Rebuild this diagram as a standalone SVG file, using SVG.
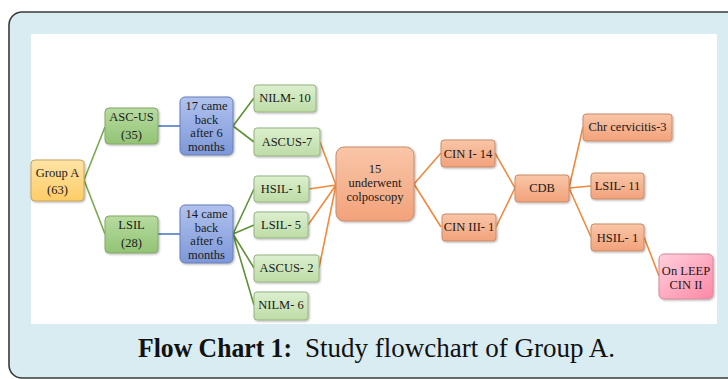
<svg xmlns="http://www.w3.org/2000/svg" width="728" height="379" viewBox="0 0 728 379">
  <defs>
    <linearGradient id="gY" x1="0" y1="0" x2="0" y2="1"><stop offset="0" stop-color="#ffe4a6"/><stop offset="1" stop-color="#ffcc66"/></linearGradient>
    <linearGradient id="gG1" x1="0" y1="0" x2="0" y2="1"><stop offset="0" stop-color="#b7dba0"/><stop offset="1" stop-color="#92c474"/></linearGradient>
    <linearGradient id="gG2" x1="0" y1="0" x2="0" y2="1"><stop offset="0" stop-color="#dcefcf"/><stop offset="1" stop-color="#bddca6"/></linearGradient>
    <linearGradient id="gB" x1="0" y1="0" x2="0" y2="1"><stop offset="0" stop-color="#b0c2ee"/><stop offset="1" stop-color="#7d97d8"/></linearGradient>
    <linearGradient id="gS" x1="0" y1="0" x2="0" y2="1"><stop offset="0" stop-color="#f9c6a8"/><stop offset="1" stop-color="#f2a27a"/></linearGradient>
    <linearGradient id="gP" x1="0" y1="0" x2="1" y2="1"><stop offset="0" stop-color="#ffd0dc"/><stop offset="1" stop-color="#ff88a6"/></linearGradient>
    <filter id="sh" x="-10%" y="-10%" width="130%" height="130%"><feDropShadow dx="1" dy="1" stdDeviation="0.8" flood-color="#000" flood-opacity="0.3"/></filter>
  </defs>
  <style>
    .n rect { stroke-width: 1; filter: url(#sh); }
    .y rect { fill: url(#gY); stroke: #c9a35c; }
    .g1 rect { fill: url(#gG1); stroke: #86a86c; }
    .g2 rect { fill: url(#gG2); stroke: #97b283; }
    .b rect { fill: url(#gB); stroke: #6a7fb8; }
    .s rect { fill: url(#gS); stroke: #c98d6c; }
    .p rect { fill: url(#gP); stroke: #d28a9c; }
    .n text { font-family: "Liberation Serif", "Times New Roman", serif; font-size: 12.5px; fill: #1a1a1a; text-anchor: middle; }
    .lg { stroke: #77ac4c; stroke-width: 1.6; fill: none; }
    .lg2 { stroke: #5f9236; stroke-width: 1.6; fill: none; }
    .lb { stroke: #4472c4; stroke-width: 1.6; fill: none; }
    .lo { stroke: #f08a3c; stroke-width: 1.6; fill: none; }
    .cap { font-family: "Liberation Serif", "Times New Roman", serif; font-size: 27px; fill: #111; }
  </style>

  <rect x="9" y="12" width="740" height="366" rx="13" fill="#d8ecf1" stroke="#3a3a3a" stroke-width="1.6"/>
  <rect x="31" y="34" width="686" height="290" fill="#ffffff"/>

  <g id="connectors">
    <path class="lg" d="M84,180 L105,127 M84,180 L105,234"/>
    <path class="lb" d="M158,126 L180,126 M158,234 L180,234"/>
    <path class="lg2" d="M233,126 L254,98 M233,126 L254,142"/>
    <path class="lg2" d="M233,234 L254,189 M233,234 L254,225 M233,234 L254,268 M233,234 L254,305"/>
    <path class="lo" d="M320,142 L336,185 M309,189 L336,185 M308,225 L336,185 M319,268 L336,185"/>
    <path class="lo" d="M414,184 L441,153 M414,184 L441,227"/>
    <path class="lo" d="M495,153 L515,188 M496,227 L515,188"/>
    <path class="lo" d="M569,188 L583,127 M569,188 L591,186 M569,188 L591,237"/>
    <path class="lo" d="M644,237 L659,276"/>
  </g>

  <g id="groupA" class="n y"><rect x="31" y="160" width="53" height="41" rx="4"/><text x="57.5" y="177">Group A</text><text x="57.5" y="194">(63)</text></g>
  <g id="ascus" class="n g1"><rect x="105" y="108" width="53" height="36" rx="4"/><text x="131.5" y="121">ASC-US</text><text x="131.5" y="139">(35)</text></g>
  <g id="lsil" class="n g1"><rect x="105" y="216" width="53" height="37" rx="4"/><text x="131.5" y="229">LSIL</text><text x="131.5" y="247">(28)</text></g>
  <g id="came17" class="n b"><rect x="180" y="97" width="53" height="58" rx="5"/><text x="206.5" y="110">17 came</text><text x="206.5" y="123.5">back</text><text x="206.5" y="137">after 6</text><text x="206.5" y="150.5">months</text></g>
  <g id="came14" class="n b"><rect x="180" y="205" width="53" height="58" rx="5"/><text x="206.5" y="218">14 came</text><text x="206.5" y="231.5">back</text><text x="206.5" y="245">after 6</text><text x="206.5" y="258.5">months</text></g>
  <g id="nilm10" class="n g2"><rect x="254" y="85" width="62" height="27" rx="3"/><text x="285" y="102">NILM- 10</text></g>
  <g id="ascus7" class="n g2"><rect x="254" y="128" width="66" height="28" rx="3"/><text x="287" y="146">ASCUS-7</text></g>
  <g id="hsil1" class="n g2"><rect x="254" y="176" width="55" height="26" rx="3"/><text x="281.5" y="193">HSIL- 1</text></g>
  <g id="lsil5" class="n g2"><rect x="254" y="212" width="54" height="26" rx="3"/><text x="281" y="229">LSIL- 5</text></g>
  <g id="ascus2" class="n g2"><rect x="254" y="255" width="65" height="27" rx="3"/><text x="286.5" y="272">ASCUS- 2</text></g>
  <g id="nilm6" class="n g2"><rect x="254" y="292" width="54" height="28" rx="3"/><text x="281" y="309">NILM- 6</text></g>
  <g id="colpo" class="n s"><rect x="336" y="147" width="78" height="74" rx="8"/><text x="375" y="173">15</text><text x="375" y="187">underwent</text><text x="375" y="201">colposcopy</text></g>
  <g id="cin1" class="n s"><rect x="441" y="140" width="54" height="27" rx="3"/><text x="468" y="158">CIN I- 14</text></g>
  <g id="cin3" class="n s"><rect x="442" y="214" width="54" height="27" rx="3"/><text x="469" y="231">CIN III- 1</text></g>
  <g id="cdb" class="n s"><rect x="515" y="175" width="54" height="27" rx="3"/><text x="542" y="192">CDB</text></g>
  <g id="chr" class="n s"><rect x="583" y="114" width="89" height="27" rx="3"/><text x="627.5" y="131">Chr cervicitis-3</text></g>
  <g id="lsil11" class="n s"><rect x="591" y="173" width="53" height="26" rx="3"/><text x="617.5" y="190">LSIL- 11</text></g>
  <g id="hsil1b" class="n s"><rect x="591" y="224" width="53" height="27" rx="3"/><text x="617.5" y="242">HSIL- 1</text></g>
  <g id="leep" class="n p"><rect x="659" y="254" width="54" height="45" rx="5"/><text x="686" y="275">On LEEP</text><text x="686" y="289">CIN II</text></g>

  <text class="cap" x="138" y="357" font-weight="bold" textLength="154" lengthAdjust="spacingAndGlyphs">Flow Chart 1:</text>
  <text class="cap" x="305" y="357" textLength="310" lengthAdjust="spacingAndGlyphs">Study flowchart of Group A.</text>
</svg>
